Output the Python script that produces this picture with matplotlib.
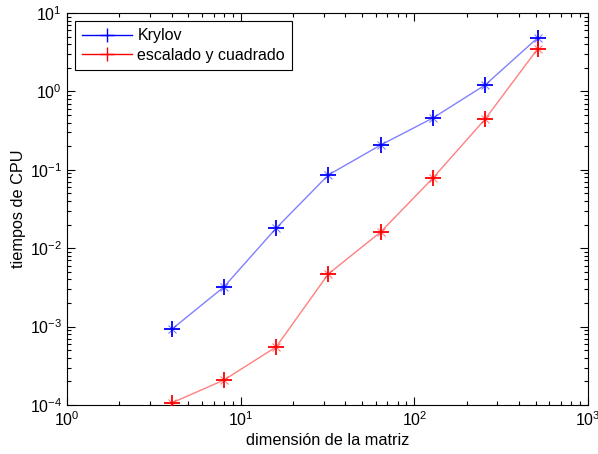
import matplotlib
matplotlib.use("Agg")
import matplotlib.pyplot as plt
from matplotlib.ticker import LogLocator, NullFormatter
from matplotlib.lines import Line2D

plt.rcParams['font.family'] = ['Liberation Sans', 'DejaVu Sans']

n = [4, 8, 16, 32, 64, 128, 256, 512]
krylov = [9.2e-4, 3.2e-3, 1.8e-2, 8.6e-2, 0.207, 0.458, 1.21, 4.8]
escalado = [1.06e-4, 2.08e-4, 5.5e-4, 4.7e-3, 1.61e-2, 7.85e-2, 0.445, 3.47]

fig = plt.figure(figsize=(5.98, 4.54), dpi=100)
ax = fig.add_axes([67/598, 1-405/454, 521/598, 392/454])

ax.plot(n, krylov, color=(0.5, 0.5, 1.0), lw=1.0, zorder=2)
ax.plot(n, escalado, color=(1.0, 0.5, 0.5), lw=1.0, zorder=2)
ax.plot(n, krylov, ls='none', marker='+', ms=11, mew=1.3, color='blue', zorder=3)
ax.plot(n, escalado, ls='none', marker='+', ms=11, mew=1.3, color='red', zorder=3)
ax.plot(n, krylov, ls='none', marker='x', ms=6, mew=0.8, color='blue', alpha=0.5, zorder=3)
ax.plot(n, escalado, ls='none', marker='x', ms=6, mew=0.8, color='red', alpha=0.5, zorder=3)

h1 = Line2D([], [], color='blue', lw=1.0, marker='+', ms=10, mew=1.0)
h2 = Line2D([], [], color='red', lw=1.0, marker='+', ms=10, mew=1.0)

ax.set_xscale('log')
ax.set_yscale('log')
ax.set_xlim(1, 1000)
ax.set_ylim(1e-4, 10)
ax.tick_params(which='both', direction='in', top=True, right=True, labelsize=11.5, width=0.8)
ax.tick_params(which='major', length=6)
ax.tick_params(which='minor', length=3)
ax.xaxis.set_major_locator(LogLocator(base=10, numticks=10))
ax.yaxis.set_major_locator(LogLocator(base=10, numticks=10))
ax.xaxis.set_minor_locator(LogLocator(base=10, subs=range(2, 10), numticks=20))
ax.yaxis.set_minor_locator(LogLocator(base=10, subs=range(2, 10), numticks=20))
ax.xaxis.set_minor_formatter(NullFormatter())
ax.yaxis.set_minor_formatter(NullFormatter())

ax.set_xlabel('dimensión de la matriz', fontsize=11.7, labelpad=3)
ax.set_ylabel('tiempos de CPU', fontsize=11.7, labelpad=3)

leg = ax.legend([h1, h2], ['Krylov', 'escalado y cuadrado'], loc='upper left',
                bbox_to_anchor=(0.0, 1.0), fancybox=False, framealpha=1,
                edgecolor='black', fontsize=11.5, handlelength=3.1, borderpad=0.45,
                labelspacing=0.3, handletextpad=0.35)
leg.get_frame().set_linewidth(0.8)

fig.savefig('out.png', dpi=100)
